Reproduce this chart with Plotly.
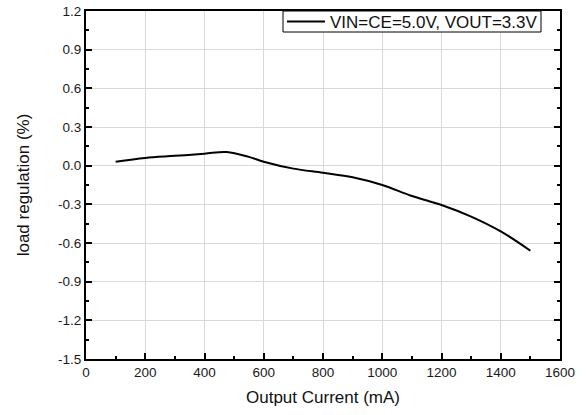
import plotly.graph_objects as go

current_ma = [100, 200, 300, 400, 475, 550, 600, 700, 800, 900, 1000, 1100, 1200, 1300, 1400, 1500]
load_reg = [0.030, 0.060, 0.076, 0.093, 0.106, 0.068, 0.031, -0.023, -0.055, -0.090, -0.150, -0.235, -0.305, -0.395, -0.510, -0.660]
series_name = "VIN=CE=5.0V, VOUT=3.3V"
y_ticks = [-1.5, -1.2, -0.9, -0.6, -0.3, 0.0, 0.3, 0.6, 0.9, 1.2]
x_ticks = [0, 200, 400, 600, 800, 1000, 1200, 1400, 1600]

W, H = 587, 415
L, R, T, B = 86, 27, 11, 56  # plot-area margins in page pixels
PW, PH = W - L - R, H - T - B


def px(xp):
    return (xp - L) / PW


def py(yp):
    return (H - B - yp) / PH


fig = go.Figure()
fig.add_trace(go.Scatter(
    x=current_ma, y=load_reg, mode="lines", name=series_name,
    line=dict(color="black", width=2, shape="spline", smoothing=1.0),
    showlegend=False,
))

font_family = "Liberation Sans, Arial, sans-serif"

# legend box (drawn by hand to match the compact boxed legend)
fig.add_shape(type="rect", xref="paper", yref="paper",
              x0=px(283), x1=px(541), y0=py(32), y1=py(11),
              line=dict(color="black", width=1), fillcolor="white", layer="above")
fig.add_shape(type="line", xref="paper", yref="paper",
              x0=px(287), x1=px(325), y0=py(21.5), y1=py(21.5),
              line=dict(color="black", width=2), layer="above")
fig.add_annotation(xref="paper", yref="paper", x=px(328), y=py(22),
                   xanchor="left", yanchor="middle", text=series_name,
                   showarrow=False, font=dict(size=17, color="#111"))

fig.update_layout(
    width=W, height=H,
    margin=dict(l=L, r=R, t=T, b=B),
    paper_bgcolor="white", plot_bgcolor="white",
    font=dict(family=font_family, size=13.5, color="#1a1a1a"),
    showlegend=False,
    xaxis=dict(
        range=[0, 1600], tickvals=x_ticks, ticktext=[str(v) for v in x_ticks],
        showgrid=True, gridcolor="#d9d9d9", gridwidth=1,
        showline=True, linecolor="black", linewidth=2, mirror=True,
        ticks="inside", ticklen=6, tickcolor="black", tickwidth=1.5,
        minor=dict(dtick=100, ticks="inside", ticklen=3, tickcolor="black", showgrid=False),
        zeroline=False, automargin=False, ticklabeloverflow="allow",
        title=dict(text="Output Current (mA)", font=dict(size=17, color="#111"), standoff=12),
    ),
    yaxis=dict(
        range=[-1.5, 1.2], tickvals=y_ticks, ticktext=[f"{v:.1f}" for v in y_ticks],
        showgrid=True, gridcolor="#d9d9d9", gridwidth=1,
        showline=True, linecolor="black", linewidth=2, mirror="ticks",
        ticks="inside", ticklen=6, tickcolor="black", tickwidth=1.5,
        minor=dict(dtick=0.15, tick0=0, ticks="inside", ticklen=3, tickcolor="black", showgrid=False),
        zeroline=False, automargin=False, ticklabeloverflow="allow",
        title=dict(text="load regulation (%)", font=dict(size=17, color="#111"), standoff=24),
    ),
)

fig.write_html("out.html", config={"displayModeBar": False},
               post_script="document.body.style.margin='0px';")
